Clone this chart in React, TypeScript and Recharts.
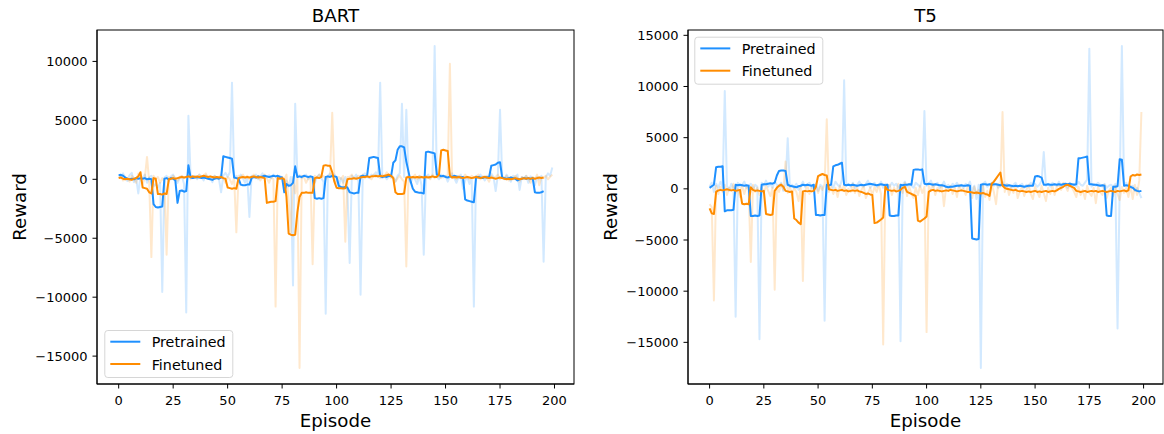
import React from 'react';
import { LineChart, Line, XAxis, YAxis } from 'recharts';

// Episode index shared by both panels
const EPISODES = Array.from({ length: 200 }, (_, i) => i);
const X_TICKS = [0, 25, 50, 75, 100, 125, 150, 175, 200];
const BART_Y_TICKS = [-15000, -10000, -5000, 0, 5000, 10000];
const T5_Y_TICKS = [-15000, -10000, -5000, 0, 5000, 10000, 15000];

// ---- BART: per-episode reward ----
const BART_PRETRAINED = [
  400, 250, 500, 150, -150, 350, 550, -250, 100, -1200,
  250, 100, 400, -300, 150, 300, -600, -400, -700, -300,
  -9550, 150, 300, -200, 250, 400, 0, -300, 100, 250,
  -400, -11300, 5400, 250, 100, 300, 0, 400, 200, -100,
  350, 100, 200, -250, 300, 100, 50, -1100, 300, 550,
  200, 600, 8200, 150, 300, -200, 400, 100, -300, 200,
  -3200, 300, 150, 400, 0, 250, 500, 100, 200, 350,
  100, 400, 250, 0, 300, 150, -400, -100, -600, 200,
  -9000, 6400, 200, 350, 100, 300, 400, 0, 250, 150,
  -300, 200, 400, 100, -200, -11400, 300, 500, 200, 400,
  150, -600, 100, -300, 200, -1000, -7100, 300, 100, 400,
  -200, -9800, 300, 500, 200, 100, 400, 300, 600, 200,
  8200, 100, 300, 0, 250, 400, 150, -200, 300, 500,
  6400, 200, 5900, 100, -300, 200, 0, -400, 300, -500,
  -6400, 200, 400, 100, 300, 11300, 200, 0, 400, 150,
  300, -200, 250, 500, 100, -300, 200, 400, -800, -100,
  200, -400, 100, -10800, 300, 100, 400, 200, -100, 300,
  100, 500, 200, -1000, 300, 5900, 200, 0, 400, 100,
  -200, 300, 150, 400, -900, 200, 100, 300, -300, 250,
  100, -500, 200, 0, 300, -7000, 200, 500, 300, 1000,
];

const BART_FINETUNED = [
  100, 300, -100, 200, 0, -200, 300, 100, -300, 500,
  200, -400, 100, 1900, -200, -6600, 300, 0, 200, -300,
  100, -200, -6400, 200, 0, 300, 100, -100, 200, 300,
  100, 200, 400, 0, 300, 200, 100, 400, 200, 300,
  500, 100, 200, 0, 300, 100, 200, 400, 100, -300,
  200, 0, -400, 100, -4500, 300, 200, 400, 100, 300,
  0, 200, 400, 100, 300, -100, 200, 400, 100, -300,
  200, 0, -10800, 300, 100, 200, 0, 400, -1800, -4500,
  200, -1200, 100, -16000, 300, 200, -300, 100, 200, -7200,
  300, 100, 400, 200, 300, 0, 200, 400, 5650, 100,
  -300, 200, 0, 300, -5300, 200, 200, 400, 0, 100,
  300, 200, 400, 100, 300, 200, 0, 400, 200, 300,
  100, 400, 200, 600, 300, 100, 200, -200, 100, 300,
  0, -200, -7400, 300, 100, 200, 400, 0, 300, 200,
  100, 300, 200, 0, 400, 100, 300, 200, 100, 300,
  200, 400, 9800, 100, 200, 0, 300, 200, 100, 400,
  200, 0, 300, 100, 200, 400, 0, 200, 300, 100,
  -200, 300, 100, 200, 400, 0, 200, 100, 300, -100,
  200, 0, 300, 100, -200, 200, 0, 300, 100, -300,
  200, 0, 400, -500, 200, 100, 300, 0, 200, 400,
];

// 5-episode moving reward (defined for episodes 0-195)
const BART_PRETRAINED_AVG = [
  350, 380, 300, 150, 50, 0, 50, 0, 100, 50,
  100, 50, 100, 0, 50, 0, -2100, -2350, -2400, -2350,
  -2300, 50, 100, 0, 100, 50, -100, -2000, -1000, -950,
  -1050, -1000, 1200, 150, 100, 150, 200, 150, 100, 150,
  100, 50, 0, -50, 50, 100, 50, 150, 1950, 1900,
  1850, 1800, 1750, 150, 100, 50, -450, -500, -500, -450,
  -450, 100, 200, 150, 250, 200, 250, 300, 250, 200,
  250, 300, 250, 300, 200, 150, -1100, -400, -550, -500,
  -300, 1100, 200, 250, 200, 300, 250, 200, 250, 200,
  -1600, -1650, -1600, -1650, -1600, 200, 250, 200, 300, 250,
  200, -550, -650, -700, -650, -700, -1100, -1150, -1200, -1150,
  -1150, 250, 300, 250, 300, 1800, 1850, 1900, 1850, 1800,
  250, 200, 250, 200, 300, 250, 1400, 1600, 2500, 2800,
  2800, 2700, 1500, 650, -200, -800, -1050, -1100, -1150, -1150,
  -1200, 2300, 2350, 2300, 2250, 2200, 400, 350, 250, 300,
  200, 150, 250, 200, 300, 250, 200, 150, 200, -1700,
  -1800, -1850, -1900, -1950, 150, 200, 150, 100, 200, 150,
  200, 1150, 1200, 1250, 1400, 1450, 150, 100, 50, 100,
  150, 100, 50, -100, 0, 50, 100, 50, 100, 50,
  100, -1100, -1150, -1150, -1100, -1000,
];

const BART_FINETUNED_AVG = [
  100, 150, 50, 0, 50, 0, -50, 50, 100, 250,
  600, -700, -750, -800, -1100, -1200, 100, 50, -1250, -1250,
  -1300, -1200, -1250, 0, 50, 100, 50, 100, 150, 200,
  150, 200, 250, 200, 250, 200, 250, 200, 250, 300,
  250, 200, 250, 200, 150, 200, 150, 200, 100, 50,
  -700, -750, -800, -750, -800, 100, 150, 200, 150, 200,
  150, 200, 250, 200, 150, 200, 150, 100, -2000, -1950,
  -1900, -1900, -1850, 100, 50, 100, 0, -1500, -4600, -4700,
  -4750, -4700, -2800, -1500, -1150, -1150, -1100, -1150, -1150, -1150,
  100, 150, 100, 200, 1150, 1200, 1150, 1150, 600, -200,
  -720, -750, -750, -780, -750, 0, 50, 50, 100, 50,
  100, 150, 200, 200, 250, 200, 250, 250, 300, 250,
  300, 250, 300, 350, 400, 300, 100, -1100, -1250, -1250,
  -1250, -1200, 150, 200, 150, 200, 150, 200, 150, 200,
  150, 200, 150, 200, 250, 200, 200, 400, 2450, 2500,
  2450, 2400, 300, 150, 200, 150, 200, 150, 100, 150,
  200, 150, 100, 150, 200, 150, 100, 150, 200, 150,
  100, 150, 100, 50, 100, 150, 100, 50, 0, 50,
  0, 50, 100, 50, 0, 50, 100, 50, 100, 50,
  100, 50, 100, 150, 100, 150,
];

// ---- T5: per-episode reward ----
const T5_PRETRAINED = [
  200, 600, -300, 500, 100, 700, 200, 9550, 300, -200,
  500, 100, -12500, 600, 200, 400, 700, 100, 300, 500,
  -100, 400, 200, -14700, 600, 300, 800, 200, 500, 100,
  700, 400, 300, 600, -200, 500, 4950, 200, 400, 100,
  500, -100, 300, 700, 200, 400, 600, 100, 300, 500,
  -200, 400, 200, -12900, 600, 300, 500, 100, 700, 400,
  200, 900, 10600, 300, 500, 200, 600, 100, 400, 700,
  300, 200, 500, 800, 100, 400, 600, 200, 300, 700,
  100, 500, 400, 200, 600, 300, 500, 100, -14900, 400,
  700, 200, 500, 300, 100, 600, 400, 200, 900, 7600,
  300, 500, 800, 200, 400, 600, 100, 300, 700, 200,
  400, 100, 500, 300, 600, 200, 400, 100, 500, 300,
  700, -200, 300, -1000, 400, -17500, 500, 700, 200, 400,
  600, 300, 500, 100, 400, 700, 200, 500, 300, 100,
  400, 600, 200, 300, 500, 100, 400, 200, 600, 300,
  500, 200, 400, 800, 3600, 300, 500, 200, 600, 400,
  300, 700, 200, 500, 400, 100, 600, 300, 500, 200,
  700, 400, 300, 600, 900, 13700, 200, 500, 300, 600,
  400, 200, 500, 100, 300, 400, 200, 500, -13650, 400,
  13950, 300, 600, 200, 100, 300, -200, 100, -400, -900,
];

const T5_FINETUNED = [
  -1500, -1800, -10900, 300, -500, 200, -300, 400, -600, 100,
  -200, 500, -400, 0, -800, 300, -500, 200, -100, -7150,
  400, -300, 100, -600, 200, -400, 300, -200, -700, 100,
  -9850, 200, -300, 500, -100, 2660, -400, 200, -600, 100,
  -300, -1200, 200, -9000, -300, 400, -500, 100, -200, 300,
  -400, 200, -100, 500, 6800, -300, 200, -500, 100, -800,
  300, -200, 400, -600, 0, -300, 500, -400, 200, -700,
  -100, 300, -900, -400, 100, -600, 200, -300, 400, -500,
  -15200, 300, -200, 400, -600, 100, -300, 500, -100, -400,
  600, -700, 200, -500, -900, 100, -600, 300, -400, 200,
  -14000, 300, -200, 500, -600, 100, -300, 400, -1700, 200,
  -100, 300, -500, 100, -800, 400, -200, 0, -600, 300,
  -400, -900, 200, -500, -100, -700, 300, -800, -200, -1100,
  400, -300, -1500, 500, 200, 7500, -300, 400, -600, 100,
  -400, 300, -900, -200, 200, -700, -100, 400, -500, -1000,
  200, -300, -800, 300, -400, -1200, 100, -500, 300, -600,
  200, 400, -100, 600, 300, -200, 500, 100, -300, -800,
  200, -600, -100, -1000, 300, -400, -700, 100, -1400, 200,
  -300, -600, 400, -900, -200, 100, -700, 300, -500, -1100,
  200, -400, 100, -800, 300, -1000, 400, -600, 800, 7500,
];

const T5_PRETRAINED_AVG = [
  100, 250, 400, 2100, 2150, 2150, 2200, -2200, -2100, -2100,
  -2100, -2050, 400, 350, 400, 350, 300, 350, 300, -2650,
  -2650, -2600, -2650, -2600, 400, 450, 450, 500, 550, 500,
  600, 1300, 1750, 1800, 1800, 1750, 400, 300, 250, 200,
  150, 250, 300, 400, 350, 400, 350, 300, 400, -2550,
  -2550, -2600, -2550, -2550, 400, 350, 400, 2200, 2300, 2350,
  2450, 2550, 400, 350, 400, 350, 400, 350, 300, 350,
  400, 350, 400, 450, 500, 450, 400, 350, 400, 450,
  400, 350, 400, -2600, -2650, -2650, -2600, -2600, 400, 350,
  400, 400, 450, 400, 1850, 1900, 1900, 1850, 1900, 500,
  450, 500, 450, 400, 450, 400, 350, 350, 300, 200,
  150, 200, 200, 250, 300, 300, 350, 300, 300, 350,
  300, -4850, -4900, -4950, -4900, 400, 450, 450, 400, 450,
  400, 450, 450, 400, 350, 400, 350, 300, 350, 300,
  250, 300, 250, 300, 250, 200, 250, 300, 300, 300,
  1200, 1250, 1200, 1100, 400, 400, 450, 400, 400, 450,
  400, 450, 400, 450, 500, 450, 500, 450, 400, 450,
  3000, 3000, 3050, 3100, 3150, 450, 450, 400, 400, 350,
  300, 350, 300, -2600, -2650, -2650, 200, 200, 250, 2900,
  2850, 300, 350, 300, 200, 100, -100, -200, -250, -200,
];

const T5_FINETUNED_AVG = [
  -1900, -2400, -2450, -300, -150, -100, -150, -100, -50, -100,
  -150, -100, -200, -150, -100, -1450, -1500, -1450, -1500, 150,
  -100, -200, -150, -200, -250, -200, -2450, -2500, -2550, -2500,
  -200, 100, 300, 400, 200, -200, -250, -300, -250, -2900,
  -3050, -3300, -3450, -250, -200, -250, -200, -250, -200, 200,
  1250, 1350, 1450, 1350, 1300, -50, -100, -150, -100, -200,
  -150, -100, -200, -150, -250, -200, -150, -200, -150, -250,
  -300, -400, -500, -450, -550, -600, -3350, -3300, -3150, -3000,
  -2800, 200, -100, -150, -200, -150, -250, -200, -100, 100,
  200, -300, -400, -500, -600, -700, -3100, -3200, -3050, -2900,
  -2700, -300, -150, -100, -200, -150, -200, -250, -200, -150,
  -200, -100, -150, -200, -250, -200, -150, -200, -250, -300,
  -300, -350, -400, -350, -400, -450, -400, -500, -550, -700,
  500, 700, 1000, 1300, 1600, 300, 100, 0, -50, -100,
  -150, -100, -200, -250, -200, -250, -300, -250, -300, -250,
  -200, -300, -250, -300, -250, -200, -300, -250, -200, -250,
  -150, 0, 100, 200, 350, 400, 300, 200, 100, -200,
  -250, -300, -250, -200, -300, -250, -200, -250, -200, -300,
  -250, -200, -250, -300, -250, -200, -250, -300, -200, -250,
  -200, -150, -250, -150, 1200, 1350, 1300, 1400, 1350, 1400,
];

const BLUE = '#1E90FF';
const ORANGE = '#FF8C00';
const FONT = '"DejaVu Sans", Verdana, sans-serif';
const PANEL_W = 582;
const PANEL_H = 434;
const PLOT_TOP = 30;
const PLOT_BOTTOM = 384;

type Row = { ep: number; pre?: number; fine?: number; preAvg?: number; fineAvg?: number };

function buildRows(pre: number[], fine: number[], preAvg: number[], fineAvg: number[]): Row[] {
  return EPISODES.map((ep, i) => ({
    ep,
    pre: pre[i],
    fine: fine[i],
    preAvg: preAvg[i],
    fineAvg: fineAvg[i],
  }));
}

const BART_ROWS = buildRows(BART_PRETRAINED, BART_FINETUNED, BART_PRETRAINED_AVG, BART_FINETUNED_AVG);
const T5_ROWS = buildRows(T5_PRETRAINED, T5_FINETUNED, T5_PRETRAINED_AVG, T5_FINETUNED_AVG);

const minusFmt = (v: number) => (v < 0 ? '\u2212' + Math.abs(v) : String(v));

type LegendBox = { x: number; y: number };

function Legend({ x, y }: LegendBox) {
  const rows = [
    { label: 'Pretrained', color: BLUE },
    { label: 'Finetuned', color: ORANGE },
  ];
  return (
    <g>
      <rect x={x + 0.5} y={y + 0.5} width={128} height={47} rx={3} ry={3}
        fill="rgba(255,255,255,0.8)" stroke="#d6d6d6" strokeWidth={1} />
      {rows.map((r, i) => {
        const cy = y + 11.7 + i * 22.3;
        return (
          <g key={r.label}>
            <line x1={x + 6} x2={x + 36} y1={cy} y2={cy} stroke={r.color} strokeWidth={2} />
            <text x={x + 47.4} y={cy + 5.5} fontFamily={FONT} fontSize={14.3} fill="#000">{r.label}</text>
          </g>
        );
      })}
    </g>
  );
}

type PanelProps = {
  title: string;
  rows: Row[];
  yDomain: [number, number];
  yTicks: number[];
  left: number;
  yAxisWidth: number;
  rightMargin: number;
  labelX: number;
  legend: LegendBox;
};

function Panel({ title, rows, yDomain, yTicks, left, yAxisWidth, rightMargin, labelX, legend }: PanelProps) {
  const plotLeft = yAxisWidth;
  const plotRight = PANEL_W - rightMargin;
  const cx = (plotLeft + plotRight) / 2;
  const cy = (PLOT_TOP + PLOT_BOTTOM) / 2;
  const tickStyle = { fill: '#000', fontSize: 13, fontFamily: FONT };
  return (
    <div style={{ position: 'absolute', left, top: 0, width: PANEL_W, height: PANEL_H }}>
      <LineChart width={PANEL_W} height={PANEL_H} data={rows}
        margin={{ top: PLOT_TOP, right: rightMargin, bottom: 0, left: 0 }}>
        <XAxis dataKey="ep" type="number" domain={[-9.95, 208.95]} ticks={X_TICKS} interval={0}
          allowDataOverflow height={PANEL_H - PLOT_BOTTOM} tickSize={4.5} tickMargin={7}
          tick={tickStyle} tickLine={{ stroke: '#000', strokeWidth: 1 }} axisLine={{ stroke: '#000', strokeWidth: 1 }} />
        <YAxis type="number" domain={yDomain} ticks={yTicks} interval={0} allowDataOverflow
          width={yAxisWidth} tickSize={4.5} tickMargin={5} tickFormatter={minusFmt}
          tick={tickStyle} tickLine={{ stroke: '#000', strokeWidth: 1 }} axisLine={{ stroke: '#000', strokeWidth: 1 }} />
        <Line dataKey="pre" stroke={BLUE} strokeOpacity={0.2} strokeWidth={2} strokeLinejoin="round"
          dot={false} activeDot={false} isAnimationActive={false} />
        <Line dataKey="fine" stroke={ORANGE} strokeOpacity={0.2} strokeWidth={2} strokeLinejoin="round"
          dot={false} activeDot={false} isAnimationActive={false} />
        <Line dataKey="preAvg" stroke={BLUE} strokeWidth={2} strokeLinejoin="round"
          dot={false} activeDot={false} isAnimationActive={false} />
        <Line dataKey="fineAvg" stroke={ORANGE} strokeWidth={2} strokeLinejoin="round"
          dot={false} activeDot={false} isAnimationActive={false} />
      </LineChart>
      <svg width={PANEL_W} height={PANEL_H}
        style={{ position: 'absolute', left: 0, top: 0, pointerEvents: 'none' }}>
        {/* axes frame */}
        <rect x={plotLeft} y={PLOT_TOP} width={plotRight - plotLeft} height={PLOT_BOTTOM - PLOT_TOP}
          fill="none" stroke="#000" strokeWidth={1} />
        <text x={cx} y={22.2} textAnchor="middle" fontFamily={FONT} fontSize={18.2} fill="#000">{title}</text>
        <text x={cx} y={426.5} textAnchor="middle" fontFamily={FONT} fontSize={18.2} fill="#000">Episode</text>
        <text transform={`translate(${labelX}, ${cy}) rotate(-90)`} textAnchor="middle"
          fontFamily={FONT} fontSize={18.2} fill="#000">Reward</text>
        <Legend x={legend.x} y={legend.y} />
      </svg>
    </div>
  );
}

export default function App() {
  return (
    <div style={{ position: 'absolute', left: 0, top: 0, width: 1164, height: 434, background: '#fff' }}>
      <Panel title="BART" rows={BART_ROWS} yDomain={[-17365, 12665]} yTicks={BART_Y_TICKS}
        left={0} yAxisWidth={97} rightMargin={8} labelX={26.2} legend={{ x: 104.3, y: 330 }} />
      <Panel title="T5" rows={T5_ROWS} yDomain={[-19070, 15520]} yTicks={T5_Y_TICKS}
        left={582} yAxisWidth={106} rightMargin={1} labelX={35.2} legend={{ x: 112.3, y: 36.7 }} />
    </div>
  );
}
